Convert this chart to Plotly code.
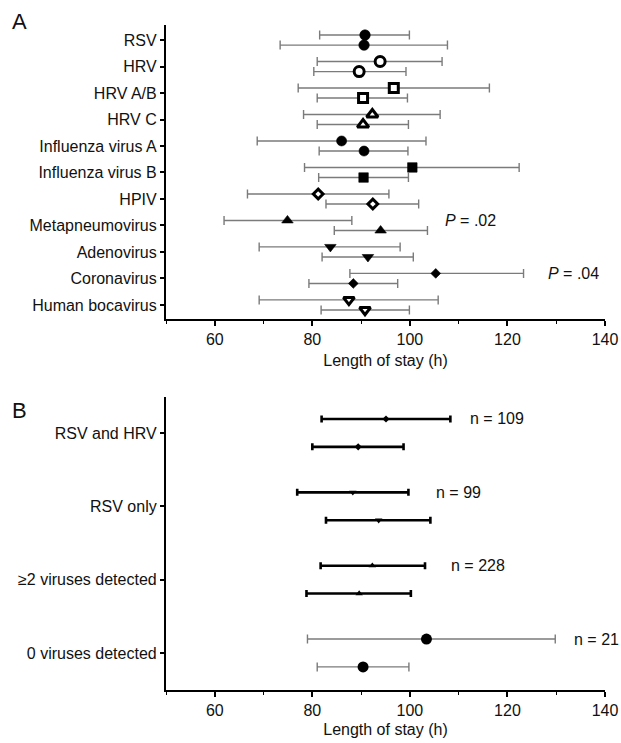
import plotly.graph_objects as go

# ---------------- Data: panel A ----------------
virus_labels = ["RSV", "HRV", "HRV A/B", "HRV C", "Influenza virus A", "Influenza virus B",
                "HPIV", "Metapneumovirus", "Adenovirus", "Coronavirus", "Human bocavirus"]
# virus detected (upper row of each pair)
det_mean = [90.8, 93.9, 96.7, 92.3, 86.0, 100.5, 81.2, 74.9, 83.7, 105.3, 87.5]
det_lo   = [81.5, 81.0, 77.1, 78.2, 68.7, 78.4, 66.7, 61.9, 69.1, 87.7, 69.1]
det_hi   = [99.9, 106.6, 116.3, 106.2, 103.3, 122.4, 95.7, 88.1, 98.0, 123.3, 105.8]
# virus not detected (lower row of each pair)
nodet_mean = [90.6, 89.6, 90.4, 90.4, 90.6, 90.5, 92.4, 94.0, 91.4, 88.4, 90.8]
nodet_lo   = [73.4, 80.3, 81.0, 81.0, 81.4, 81.3, 82.8, 84.5, 82.0, 79.3, 81.8]
nodet_hi   = [107.7, 99.2, 99.5, 99.7, 99.6, 99.7, 101.8, 103.6, 100.7, 97.5, 99.9]

# ---------------- Data: panel B ----------------
group_labels = ["RSV and HRV", "RSV only", "≥2 viruses detected", "0 viruses detected"]
grp_up_mean = [95.1, 88.3, 92.3, 103.4]
grp_up_lo   = [81.9, 76.9, 81.7, 79.0]
grp_up_hi   = [108.3, 99.7, 103.1, 129.8]
grp_dn_mean = [89.4, 93.6, 89.6, 90.4]
grp_dn_lo   = [80.0, 82.8, 78.8, 81.0]
grp_dn_hi   = [98.7, 104.2, 100.2, 99.8]
n_labels = ["n = 109", "n = 99", "n = 228", "n = 21"]

x_ticks = [60, 80, 100, 120, 140]

# ---------------- Styles ----------------
FONT = "Arial, Liberation Sans, Helvetica, sans-serif"
GREY = "#7b7b7b"
OFF = 0.19

symA = ['circle', 'circle', 'square', 'triangle-up', 'circle', 'square', 'diamond',
        'triangle-up', 'triangle-down', 'diamond', 'triangle-down']
filledA = [True, False, False, False, True, True, False, True, True, True, False]
sizeA = [10.5, 10, 9, 10, 10, 9.5, 7.5, 10, 10, 7.5, 9.5]

def err(mean, lo, hi):
    return dict(type='data', symmetric=False,
                array=[h - m for m, h in zip(mean, hi)],
                arrayminus=[m - l for m, l in zip(mean, lo)],
                color=GREY, thickness=1.4, width=4.5)

fig = go.Figure()

markerA = dict(symbol=symA, size=sizeA, opacity=1,
               color=['black' if f else 'white' for f in filledA],
               line=dict(color='black', width=[0.6 if f else 3 for f in filledA]))

fig.add_trace(go.Scatter(x=det_mean, y=[i - OFF for i in range(len(virus_labels))],
                         mode='markers', marker=markerA,
                         error_x=err(det_mean, det_lo, det_hi),
                         xaxis='x', yaxis='y', showlegend=False))
fig.add_trace(go.Scatter(x=nodet_mean, y=[i + OFF for i in range(len(virus_labels))],
                         mode='markers', marker=markerA,
                         error_x=err(nodet_mean, nodet_lo, nodet_hi),
                         xaxis='x', yaxis='y', showlegend=False))

# Panel B
symB = ['diamond', 'triangle-down', 'triangle-up', 'circle']
sizeB = [5.5, 6.5, 6.5, 11]
for i in range(len(group_labels)):
    bold = i < 3
    for mean, lo, hi, off in ((grp_up_mean, grp_up_lo, grp_up_hi, -OFF),
                              (grp_dn_mean, grp_dn_lo, grp_dn_hi, OFF)):
        e = err([mean[i]], [lo[i]], [hi[i]])
        if bold:
            e.update(color='black', thickness=2.6, width=3.5)
        fig.add_trace(go.Scatter(x=[mean[i]], y=[i + off], mode='markers',
                                 marker=dict(symbol=symB[i], size=sizeB[i], color='black',
                                             opacity=1, line=dict(width=0)),
                                 error_x=e, xaxis='x2', yaxis='y2', showlegend=False))

axis_font = dict(family=FONT, size=16, color='#111')

def xaxis_def(anchor, standoff):
    return dict(anchor=anchor, range=[50, 140], tickvals=x_ticks,
                ticks='outside', ticklen=5, tickwidth=1.5, tickcolor='black',
                minor=dict(ticks='outside', ticklen=3, tickwidth=1.2, tickcolor='black',
                           tick0=50, dtick=10),
                showline=True, linewidth=2.2, linecolor='black', showgrid=False,
                zeroline=False, tickfont=axis_font,
                title=dict(text="Length of stay (h)", font=axis_font, standoff=standoff))

def yaxis_def(anchor, domain, rng, labels):
    return dict(anchor=anchor, domain=domain, range=rng,
                tickvals=list(range(len(labels))), ticktext=labels,
                ticks='outside', ticklen=4, tickwidth=1.5, tickcolor='black',
                showline=True, linewidth=2.2, linecolor='black', showgrid=False,
                zeroline=False, tickfont=axis_font)

annotations = [
    dict(text="A", x=-0.333, y=1 - 21 / 743, xref='paper', yref='paper', showarrow=False,
         xanchor='center', yanchor='middle',
         font=dict(family=FONT, size=22, color='#111')),
    dict(text="B", x=-0.333, y=1 - 410 / 743, xref='paper', yref='paper', showarrow=False,
         xanchor='center', yanchor='middle',
         font=dict(family=FONT, size=22, color='#111')),
    dict(text="<i>P</i> = .02", x=106.8, y=7 - OFF, xref='x', yref='y', xanchor='left',
         showarrow=False, font=axis_font),
    dict(text="<i>P</i> = .04", x=128.0, y=9 - OFF, xref='x', yref='y', xanchor='left',
         showarrow=False, font=axis_font),
]
n_x = [111.9, 105.0, 108.1, 133.2]
for i, t in enumerate(n_labels):
    annotations.append(dict(text=t, x=n_x[i], y=i - OFF, xref='x2', yref='y2',
                            xanchor='left', showarrow=False, font=axis_font))

fig.update_layout(
    width=621, height=743,
    margin=dict(l=166, r=16, t=0, b=0),
    paper_bgcolor='white', plot_bgcolor='white',
    font=axis_font,
    xaxis=xaxis_def('y', 8),
    yaxis=yaxis_def('x', [0.5707, 0.9664], [10.53, -0.57], virus_labels),
    xaxis2=xaxis_def('y2', 5),
    yaxis2=yaxis_def('x2', [0.0713, 0.4657], [3.505, -0.49], group_labels),
    annotations=annotations,
)

fig.write_html("out.html", config={'displayModeBar': False},
               post_script="document.body.style.margin='0';document.body.style.padding='0';"
                           "document.body.style.overflow='hidden';")
